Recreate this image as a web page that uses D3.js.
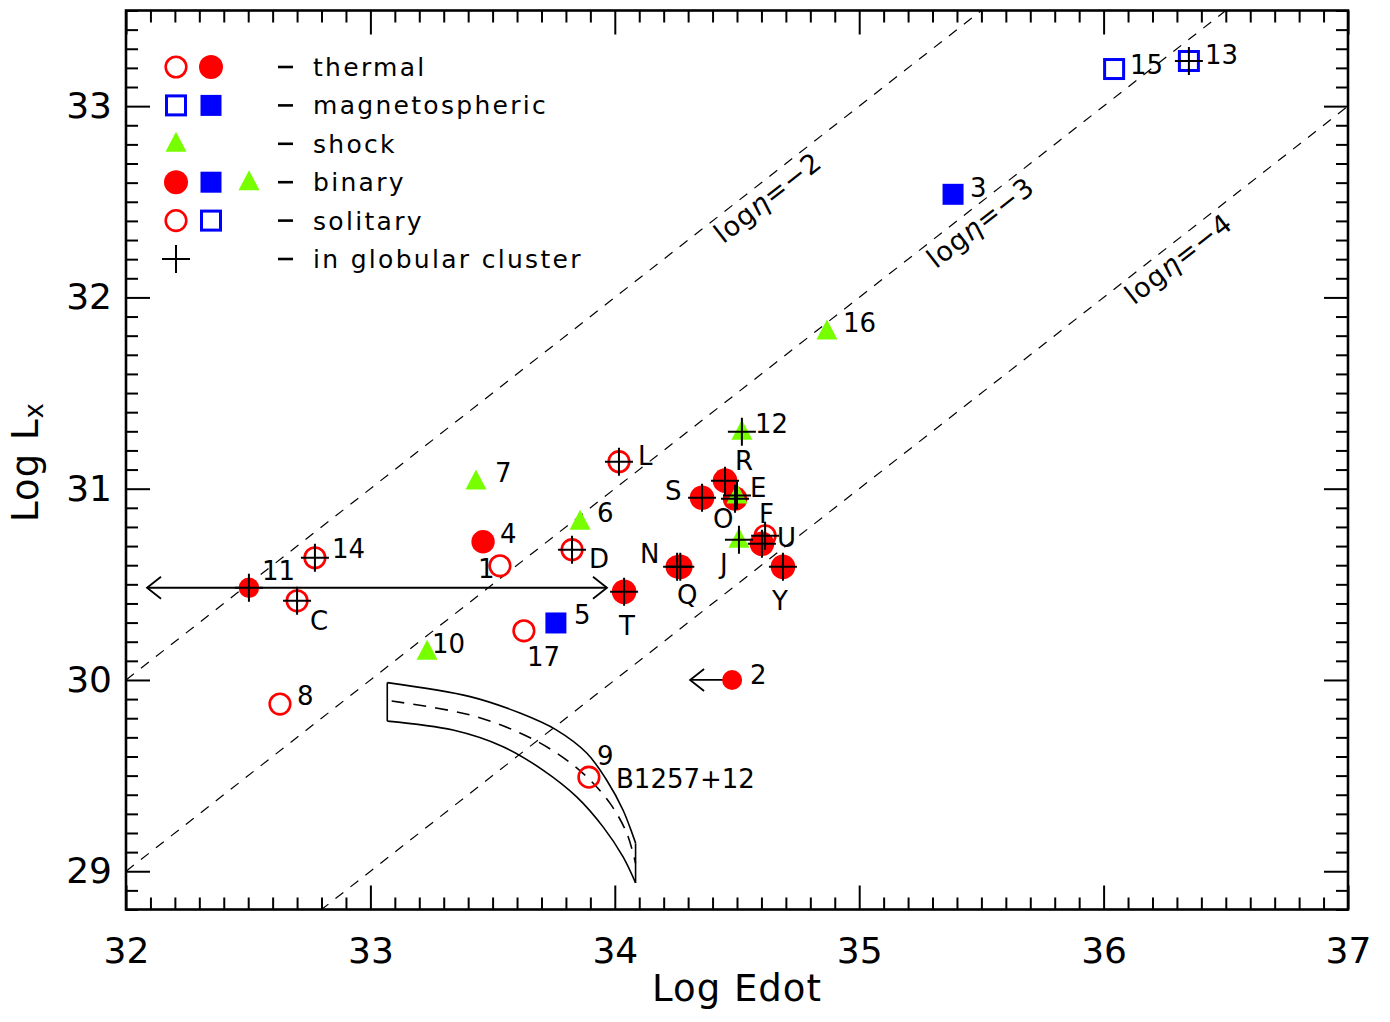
<!DOCTYPE html>
<html><head><meta charset="utf-8">
<script src="https://cdn.jsdelivr.net/npm/d3@7"></script>
<style>body{margin:0;background:#fff} text{font-family:"DejaVu Sans",sans-serif;fill:#000}</style>
</head><body>
<svg id="c" width="1390" height="1022"></svg>
<script>
// ---------- data ----------
const xDomain = [32, 37];
const yDomain = [28.8, 33.5];
const xTicks = [32, 33, 34, 35, 36, 37];
const yTicks = [29, 30, 31, 32, 33];

const names = ["1","2","3","4","5","6","7","8","9","10","11","12","13","14","15","16","17",
  "C","D","L","T","N","Q","S","R","E","O","F","U","J","Y"];
const edot = [33.530,34.480,35.384,33.461,33.759,33.858,33.432,32.630,33.894,33.232,32.503,34.520,36.349,32.773,36.043,34.868,33.628,
  32.700,33.825,34.017,34.038,34.255,34.268,34.357,34.451,34.492,34.500,34.615,34.602,34.508,34.688];
const logLx = [30.597,30.000,32.539,30.723,30.298,30.827,31.037,29.874,29.492,30.147,30.482,31.298,33.236,30.639,33.194,31.822,30.257,
  30.414,30.681,31.141,30.461,30.592,30.592,30.953,31.042,30.948,30.965,30.754,30.712,30.733,30.592];
const emission = ["thermal","thermal","magnetospheric","thermal","magnetospheric","shock","shock","thermal","thermal","shock","thermal","shock","magnetospheric","thermal","magnetospheric","shock","thermal",
  "thermal","thermal","thermal","thermal","thermal","thermal","thermal","thermal","thermal","shock","thermal","thermal","shock","thermal"];
const binary = [false,true,true,true,true,true,true,false,false,true,true,true,false,false,false,true,false,
  false,false,false,true,false,true,true,true,true,true,false,true,true,true];
const inGlobular = [false,false,false,false,false,false,false,false,false,false,true,true,true,true,false,false,false,
  true,true,true,true,true,true,true,true,true,true,true,true,true,true];

// Edot ranges / limits (arrows)
const arrowNames = ["11", "2"];
const arrowFrom  = [32.086, 34.480];
const arrowTo    = [33.968, 34.308];
const arrowBoth  = [true, false];

// label annotations (data coordinates of text start / baseline)
const labelText = ["11","14","C","8","10","7","4","1","17","5","D","6","L","T","N","Q","S","R","12","E","O","F","U","J","Y","2","9","B1257+12","16","3","15","13"];
const labelEdot = [32.556,32.843,32.753,32.700,33.252,33.510,33.530,33.440,33.641,33.833,33.894,33.927,34.095,34.017,34.103,34.254,34.205,34.492,34.574,34.553,34.402,34.590,34.664,34.430,34.643,34.553,33.927,34.005,34.934,35.453,36.108,36.415];
const labelLx   = [30.524,30.639,30.262,29.869,30.141,31.037,30.717,30.534,30.073,30.293,30.586,30.827,31.126,30.236,30.613,30.398,30.942,31.099,31.293,30.958,30.796,30.822,30.696,30.560,30.366,29.979,29.555,29.435,31.817,32.524,33.168,33.220];

// efficiency lines log(eta)
const etaValues = [-2, -3, -4];
const etaLabelEdot = [34.585, 35.455, 36.265];

// B1257+12 band
const bandUpperEdot = [33.069,33.408,33.612,33.762,33.885,33.967,34.034,34.085];
const bandUpperLx   = [29.986,29.913,29.827,29.738,29.618,29.476,29.319,29.147];
const bandLowerEdot = [33.069,33.338,33.543,33.706,33.844,33.952,34.034,34.085];
const bandLowerLx   = [29.785,29.738,29.651,29.529,29.389,29.232,29.075,28.939];
const bandMidEdot   = [33.087,33.408,33.612,33.762,33.885,33.980,34.049,34.085];
const bandMidLx     = [29.890,29.817,29.723,29.618,29.494,29.356,29.199,29.042];

// legend
const legendSymbols = [["openCircle","filledCircle"],["openSquare","filledSquare"],["triangle"],["filledCircle","filledSquare","triangle"],["openCircle","openSquare"],["cross"]];
const legendText = ["thermal","magnetospheric","shock","binary","solitary","in globular cluster"];

// ---------- drawing ----------
const RED = "#ff0000", BLUE = "#0000ff", GREEN = "#77ff00";
const svg = d3.select("#c");
const L = 126, R = 1348, T = 10.5, B = 909.5;
const x = d3.scaleLinear().domain(xDomain).range([L, R]);
const y = d3.scaleLinear().domain(yDomain).range([B, T]);

svg.append("defs").append("clipPath").attr("id","clip")
  .append("rect").attr("x",L).attr("y",T).attr("width",R-L).attr("height",B-T);

function drawSymbol(g, kind, cx, cy, r) {
  if (kind === "openCircle") {
    g.append("circle").attr("cx",cx).attr("cy",cy).attr("r",10.3).attr("fill","none").attr("stroke",RED).attr("stroke-width",2.6);
  } else if (kind === "filledCircle") {
    g.append("circle").attr("cx",cx).attr("cy",cy).attr("r",r||12).attr("fill",RED);
  } else if (kind === "openSquare") {
    g.append("rect").attr("x",cx-9.5).attr("y",cy-9.5).attr("width",19).attr("height",19).attr("fill","none").attr("stroke",BLUE).attr("stroke-width",3);
  } else if (kind === "filledSquare") {
    g.append("rect").attr("x",cx-10.5).attr("y",cy-10.5).attr("width",21).attr("height",21).attr("fill",BLUE);
  } else if (kind === "triangle") {
    g.append("path").attr("d",`M${cx},${cy-12}L${cx+10.5},${cy+8}L${cx-10.5},${cy+8}Z`).attr("fill",GREEN);
  } else if (kind === "cross") {
    g.append("path").attr("d",`M${cx-14},${cy}H${cx+14}M${cx},${cy-14}V${cy+14}`).attr("stroke","#000").attr("stroke-width",2).attr("fill","none");
  }
}

const plot = svg.append("g").attr("clip-path","url(#clip)");

// eta lines
const line = d3.line().x(d=>x(d[0])).y(d=>y(d[1]));
etaValues.forEach(eta => {
  plot.append("path").attr("d", line([[xDomain[0], xDomain[0]+eta],[xDomain[1], xDomain[1]+eta]]))
    .attr("stroke","#000").attr("stroke-width",1.2).attr("stroke-dasharray","10,9").attr("fill","none");
});
const ang = Math.atan2(y(1)-y(0), x(1)-x(0)) * 180 / Math.PI;
etaValues.forEach((eta,i) => {
  const px = x(etaLabelEdot[i]), py = y(etaLabelEdot[i] + eta);
  const t = svg.append("text").attr("transform",`translate(${px+10},${py+12}) rotate(${ang})`)
    .attr("text-anchor","middle").attr("dy","0.35em").attr("font-size",27).attr("letter-spacing",1);
  t.append("tspan").text("log");
  t.append("tspan").attr("font-style","italic").text("\u03B7");
  t.append("tspan").text("=\u2212" + Math.abs(eta));
});

// B1257+12 band
const curve = d3.line().x(d=>x(d[0])).y(d=>y(d[1])).curve(d3.curveCatmullRom);
const up = bandUpperEdot.map((v,i)=>[v,bandUpperLx[i]]);
const lo = bandLowerEdot.map((v,i)=>[v,bandLowerLx[i]]);
const mid = bandMidEdot.map((v,i)=>[v,bandMidLx[i]]);
plot.append("path").attr("d",curve(up)).attr("stroke","#000").attr("stroke-width",1.6).attr("fill","none");
plot.append("path").attr("d",curve(lo)).attr("stroke","#000").attr("stroke-width",1.6).attr("fill","none");
plot.append("path").attr("d",curve(mid)).attr("stroke","#000").attr("stroke-width",1.6).attr("stroke-dasharray","13,9").attr("fill","none");
plot.append("path").attr("d",line([up[0],lo[0]])).attr("stroke","#000").attr("stroke-width",1.6);
plot.append("path").attr("d",line([up[up.length-1],lo[lo.length-1]])).attr("stroke","#000").attr("stroke-width",1.6);

// arrows
arrowNames.forEach((n,i) => {
  const k = names.indexOf(n);
  const py = y(logLx[k]);
  const x1 = x(arrowFrom[i]), x2 = x(arrowTo[i]);
  const g = plot.append("g").attr("stroke","#000").attr("stroke-width",1.8).attr("fill","none");
  g.append("path").attr("d",`M${x1},${py}H${x2}`);
  const head = (hx, dir) => g.append("path").attr("d",`M${hx-dir*14},${py-11}L${hx},${py}L${hx-dir*14},${py+11}`);
  head(x2, Math.sign(x2-x1));
  if (arrowBoth[i]) head(x1, Math.sign(x1-x2));
});

// points
const markerRadius = {"2":10, "11":10.2, "4":11.7};
const pts = plot.append("g");
names.forEach((n,i) => {
  let kind;
  if (emission[i] === "shock") kind = "triangle";
  else if (emission[i] === "thermal") kind = binary[i] ? "filledCircle" : "openCircle";
  else kind = binary[i] ? "filledSquare" : "openSquare";
  drawSymbol(pts, kind, x(edot[i]), y(logLx[i]), markerRadius[n] || 12.3);
});
names.forEach((n,i) => { if (inGlobular[i]) drawSymbol(pts, "cross", x(edot[i]), y(logLx[i])); });

// labels
labelText.forEach((t,i) => {
  svg.append("text").attr("x",x(labelEdot[i])).attr("y",y(labelLx[i])).attr("font-size",26).text(t);
});

// axes
function styleAxis(g){ g.select(".domain").remove(); g.selectAll(".tick line").attr("stroke","#000").attr("stroke-width",2); }
const minorXv = d3.range(32, 37.0001, 0.1).map(v=>+v.toFixed(1)).filter(v=>Math.abs(v-Math.round(v))>1e-6);
const minorY = d3.range(28.8, 33.5001, 0.1).map(v=>+v.toFixed(1)).filter(v=>Math.abs(v-Math.round(v))>1e-6);

svg.append("g").attr("transform",`translate(0,${B})`).call(d3.axisBottom(x).tickValues(xTicks).tickSize(-24).tickPadding(28).tickFormat(d3.format("d"))).call(styleAxis)
  .selectAll("text").attr("font-size",36).attr("font-family","DejaVu Sans");
svg.append("g").attr("transform",`translate(0,${B})`).call(d3.axisBottom(x).tickValues(minorXv).tickSize(-12).tickFormat("")).call(styleAxis);
svg.append("g").attr("transform",`translate(0,${T})`).call(d3.axisTop(x).tickValues(xTicks).tickSize(-24).tickFormat("")).call(styleAxis);
svg.append("g").attr("transform",`translate(0,${T})`).call(d3.axisTop(x).tickValues(minorXv).tickSize(-12).tickFormat("")).call(styleAxis);
svg.append("g").attr("transform",`translate(${L},0)`).call(d3.axisLeft(y).tickValues(yTicks).tickSize(-24).tickPadding(14).tickFormat(d3.format("d"))).call(styleAxis)
  .selectAll("text").attr("font-size",36).attr("font-family","DejaVu Sans");
svg.append("g").attr("transform",`translate(${L},0)`).call(d3.axisLeft(y).tickValues(minorY).tickSize(-12).tickFormat("")).call(styleAxis);
svg.append("g").attr("transform",`translate(${R},0)`).call(d3.axisRight(y).tickValues(yTicks).tickSize(-24).tickFormat("")).call(styleAxis);
svg.append("g").attr("transform",`translate(${R},0)`).call(d3.axisRight(y).tickValues(minorY).tickSize(-12).tickFormat("")).call(styleAxis);
svg.append("rect").attr("x",L).attr("y",T).attr("width",R-L).attr("height",B-T).attr("fill","none").attr("stroke","#000").attr("stroke-width",2.6);

// axis titles
svg.append("text").attr("x",(L+R)/2).attr("y",1001).attr("text-anchor","middle").attr("font-size",37).attr("letter-spacing",1).text("Log Edot");
const yt = svg.append("text").attr("transform","translate(38,462) rotate(-90)").attr("text-anchor","middle").attr("font-size",37).attr("letter-spacing",1);
yt.append("tspan").text("Log L");
yt.append("tspan").attr("font-size",26).attr("dy",5).text("x");

// legend
const legX = [176, 211, 249];
legendText.forEach((t,i) => {
  const cy = 67 + i*38.4;
  legendSymbols[i].forEach((s,j) => drawSymbol(svg, s, legX[j], cy, 12));
  svg.append("path").attr("d",`M278,${cy}H293`).attr("stroke","#000").attr("stroke-width",2.6);
  svg.append("text").attr("x",313).attr("y",cy).attr("dy","0.36em").attr("font-size",25).attr("letter-spacing",2.3).text(t);
});
</script>
</body></html>
